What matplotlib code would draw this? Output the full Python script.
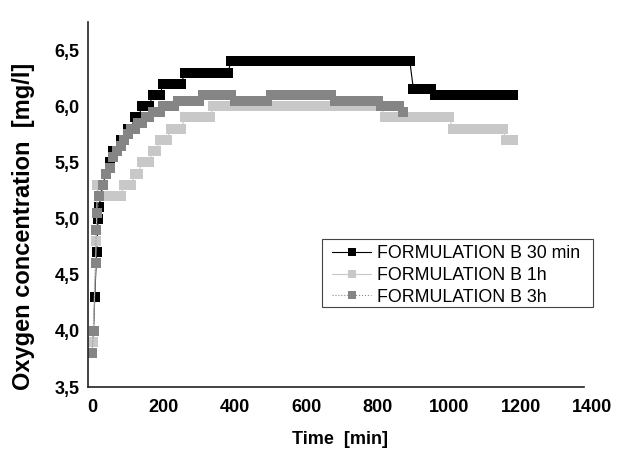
import numpy as np
import matplotlib
matplotlib.use("Agg")
import matplotlib.pyplot as plt
from matplotlib.ticker import FuncFormatter
from matplotlib.patches import Rectangle

plt.rcParams['font.family'] = ['Liberation Sans', 'DejaVu Sans']

# runs of equal readings: first time, last time, level (readings every 10 min inside a run)
b30_start = [3, 8, 13, 17, 20, 25, 30, 40, 50, 60, 80, 100, 120, 140, 170, 200, 260, 390, 900, 960]
b30_end = [3, 8, 13, 17, 20, 25, 30, 40, 50, 70, 90, 110, 130, 160, 190, 250, 380, 890, 950, 1180]
b30_level = [3.9, 4.3, 4.7, 5.0, 5.1, 5.2, 5.3, 5.4, 5.5, 5.6, 5.7, 5.8, 5.9, 6.0, 6.1, 6.2, 6.3, 6.4, 6.15, 6.1]

b1h_start = [3, 12, 15, 20, 90, 120, 140, 170, 190, 220, 260, 340, 820, 1010, 1160]
b1h_end = [3, 12, 15, 80, 110, 130, 160, 180, 210, 250, 330, 810, 1000, 1150, 1180]
b1h_level = [3.9, 4.8, 5.3, 5.2, 5.3, 5.4, 5.5, 5.6, 5.7, 5.8, 5.9, 6.0, 5.9, 5.8, 5.7]

b3h_start = [0, 5, 10, 12, 15, 20, 30, 40, 50, 60, 70, 80, 90, 100, 110, 130, 150, 170, 200, 240, 310, 400, 500, 680, 810, 870]
b3h_end = [0, 5, 10, 12, 15, 20, 30, 40, 50, 60, 70, 80, 90, 100, 120, 140, 160, 190, 230, 300, 390, 490, 670, 800, 860, 870]
b3h_level = [3.8, 4.0, 4.6, 4.9, 5.05, 5.2, 5.3, 5.4, 5.45, 5.55, 5.6, 5.65, 5.7, 5.75, 5.8, 5.85, 5.9, 5.95, 6.0, 6.05, 6.1, 6.05, 6.1, 6.05, 6.0, 5.95]

labels = ['FORMULATION B 30 min', 'FORMULATION B 1h', 'FORMULATION B 3h']


def expand(starts, ends, levels, step=10):
    t, v = [], []
    for s, e, lv in zip(starts, ends, levels):
        pts = np.arange(s, e + 1, step)
        t.extend(pts)
        v.extend([lv] * len(pts))
    return np.array(t), np.array(v)


W, H = 621, 454
fig = plt.figure(figsize=(W / 100, H / 100), dpi=100)
ax = fig.add_axes([88 / W, 1 - 387 / H, (592 - 88) / W, (387 - 22) / H])

series = [
    (b30_start, b30_end, b30_level, '#000000', '-'),
    (b1h_start, b1h_end, b1h_level, '#c8c8c8', '-'),
    (b3h_start, b3h_end, b3h_level, '#858585', ':'),
]
for (s, e, lv, col, ls), lab in zip(series, labels):
    t, v = expand(s, e, lv)
    ax.plot(t, v, ls=ls, color=col, lw=0.8, marker='s', ms=6.8,
            mec=col, mew=0, mfc=col, label=lab)

ax.set_xlim(-11, 1400)
ax.set_ylim(3.5, 6.75)
ax.set_xticks(np.arange(0, 1401, 200))
ax.set_yticks(np.arange(3.5, 6.51, 0.5))
ax.yaxis.set_major_formatter(FuncFormatter(lambda y, p: f"{y:.1f}".replace('.', ',')))
ax.tick_params(length=0, labelsize=13)
ax.tick_params(axis='x', pad=9)
ax.tick_params(axis='y', pad=6)
for lbl in ax.get_xticklabels() + ax.get_yticklabels():
    lbl.set_fontweight('bold')

for side in ['top', 'right']:
    ax.spines[side].set_visible(False)
for side in ['left', 'bottom']:
    ax.spines[side].set_linewidth(1.2)
    ax.spines[side].set_color('#222222')
ax.spines['bottom'].set_bounds(-11, 1378)

ax.set_xlabel('Time  [min]', fontsize=13, fontweight='bold')
ax.xaxis.set_label_coords(0.5, -0.12)
ax.set_ylabel('Oxygen concentration  [mg/l]', fontsize=17, fontweight='bold')
ax.yaxis.set_label_coords(-0.105, 0.44)

leg = ax.legend(loc='upper left', bbox_to_anchor=(332 / W, 1 - 245 / H),
                bbox_transform=fig.transFigure, fontsize=12.8, frameon=False,
                handlelength=2.2, handletextpad=0.35, labelspacing=0.27,
                borderpad=0, borderaxespad=0, markerscale=0.75)
fig.patches.append(Rectangle((322 / W, 1 - 307 / H), 271 / W, 68 / H,
                             transform=fig.transFigure, fill=False,
                             edgecolor='#444444', lw=0.8))

fig.savefig('out.png', dpi=100)
